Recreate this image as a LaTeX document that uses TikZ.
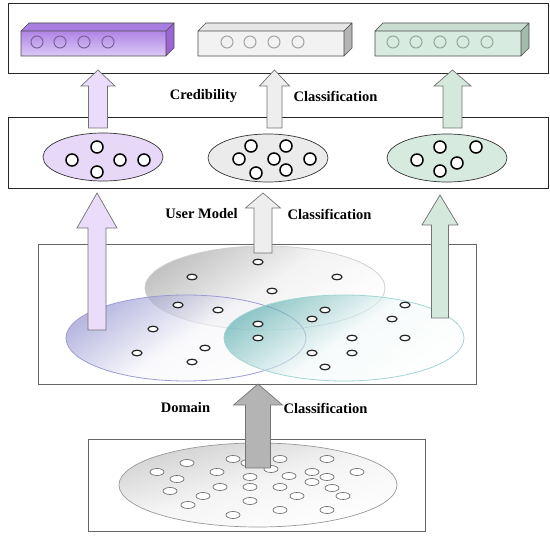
\documentclass[tikz,border=0pt]{standalone}
\usepackage{fontspec}
\setmainfont{Liberation Serif}
\definecolor{pFrontA}{HTML}{B085E6}
\definecolor{pFrontB}{HTML}{DCC8F6}
\definecolor{pTop}{HTML}{A87EE0}
\definecolor{pSide}{HTML}{9B65D6}
\definecolor{pRing}{HTML}{7E62A0}
\definecolor{gFront}{HTML}{F2F2F2}
\definecolor{gTop}{HTML}{E6E6E6}
\definecolor{gSide}{HTML}{B4B4B4}
\definecolor{gRing}{HTML}{A4A4A4}
\definecolor{tFront}{HTML}{D8EBE0}
\definecolor{tTop}{HTML}{C9DDD1}
\definecolor{tSide}{HTML}{A3BBAB}
\definecolor{tRing}{HTML}{93AA9B}
\definecolor{pArrow}{HTML}{EADCFA}
\definecolor{gArrow}{HTML}{EEEEEE}
\definecolor{tArrow}{HTML}{D4E8DB}
\definecolor{dArrow}{HTML}{B4B4B4}
\definecolor{pEll}{HTML}{E7D8F8}
\definecolor{gEll}{HTML}{EBEBEB}
\definecolor{tEll}{HTML}{D6EADF}
\definecolor{lowP}{HTML}{7E7EC8}
\definecolor{lowPline}{HTML}{9C9CD2}
\definecolor{lowG}{HTML}{B0B0B0}
\definecolor{lowGline}{HTML}{D0D0D0}
\definecolor{lowT}{HTML}{4EA8A8}
\definecolor{lowTline}{HTML}{A2D4D4}
\newcommand\tdbar[6]{%
  \shade[top color=#3,bottom color=#4] (#1,31) rectangle (#2,56);
  \fill[#5] (#1,31) -- ({#1+8},23) -- ({#2+8},23) -- (#2,31) -- cycle;
  \fill[#6] (#2,31) -- ({#2+8},23) -- ({#2+8},48) -- (#2,56) -- cycle;
  \draw[barline] (#1,31) rectangle (#2,56)
    (#1,31) -- ({#1+8},23) -- ({#2+8},23) -- ({#2+8},48) -- (#2,56)
    (#2,31) -- ({#2+8},23);
}
% cx, tip y, head base y, bottom y, head half width, shaft half width, fill
\newcommand\blockarrow[7]{%
  \draw[arrowbody, fill=#7] (#1,#2) -- ({#1+#5},#3) -- ({#1+#6},#3) -- ({#1+#6},#4)
    -- ({#1-#6},#4) -- ({#1-#6},#3) -- ({#1-#5},#3) -- cycle;
}
\begin{document}
\begin{tikzpicture}[x=1pt,y=-1pt,line join=miter,
  box/.style={draw=black!85, line width=0.8pt},
  lowbox/.style={draw=black!60, line width=1pt},
  barline/.style={draw=black!70, line width=0.7pt},
  lbl/.style={font=\fontsize{14.5}{16}\selectfont\bfseries, inner sep=0pt},
  arrowbody/.style={draw=black!55, line width=0.7pt},
  ring/.style={draw=black, line width=1.5pt, fill=white},
  smallring/.style={draw=black!85, line width=1.2pt, fill=white},
  bigring/.style={draw=black!55, line width=0.7pt, fill=white},
  midell/.style={draw=black!80, line width=0.7pt}]
\useasboundingbox (0,0) rectangle (550,540);
\fill[white] (0,0) rectangle (550,540);

% frames
\draw[box] (8,3) rectangle (548.5,73);
\draw[box] (8,117) rectangle (548.5,188);
\draw[lowbox] (38,244.5) rectangle (476,385);
\draw[lowbox] (88,440) rectangle (425,532);

% top bars
\tdbar{21}{166}{pFrontA}{pFrontB}{pTop}{pSide}
\tdbar{198}{344}{gFront}{gFront}{gTop}{gSide}
\tdbar{375}{521}{tFront}{tFront}{tTop}{tSide}
\foreach \x in {37,60,84,108} \draw[pRing, line width=1pt] (\x,42) circle (6);
\foreach \x in {227,250,274,298} \draw[gRing, line width=1pt] (\x,42) circle (6);
\foreach \x in {393,416,440,463,487} \draw[tRing, line width=1pt] (\x,42) circle (6);

% middle ellipses
\draw[midell, fill=pEll] (103,157) ellipse (60 and 24);
\draw[midell, fill=gEll] (268,158) ellipse (60 and 24);
\draw[midell, fill=tEll] (447,158) ellipse (60 and 24);
\foreach \p in {(72,160),(97,147),(97,172),(120,160),(144,160)} \draw[ring] \p circle (6);
\foreach \p in {(239,159),(251,146),(286,146),(274,159),(310,159),(256,173),(286,170)} \draw[ring] \p circle (6);
\foreach \p in {(417,160),(440,147),(476,147),(457,163),(440,171)} \draw[ring] \p circle (6);

% lower overlapping sets
\shade[fill opacity=0.75, top color=lowG, bottom color=white, middle color=lowG!20, shading angle=35] (265,288) ellipse (120 and 42);
\draw[lowGline, line width=0.8pt] (265,288) ellipse (120 and 42);
\shade[fill opacity=0.55, top color=lowP, bottom color=white, middle color=lowP!8, shading angle=35] (186,338) ellipse (120 and 43);
\draw[lowPline, line width=0.8pt] (186,338) ellipse (120 and 43);
\shade[fill opacity=0.6, top color=lowT, bottom color=white, middle color=lowT!8, shading angle=35] (344,338) ellipse (120 and 43);
\draw[lowTline, line width=0.8pt] (344,338) ellipse (120 and 43);
\foreach \p in {(258,262),(192,277),(337,277),(272,291),(178,305),(218,310),(325,310),(405,305),
  (312,319),(392,319),(258,324),(153,329),(258,338),(352,338),(405,338),(205,348),(137,353),
  (312,353),(352,353),(192,362),(325,367)} \draw[smallring] \p ellipse (5 and 2.8);

% bottom domain set
\shade[top color=black!18, bottom color=white, middle color=black!4, shading angle=15] (258,485) ellipse (139 and 42);
\draw[black!40, line width=0.7pt] (258,485) ellipse (139 and 42);
\foreach \p in {(187,463),(233,459),(280,459),(327,459),(157,472),(217,472),(248,463),(271,469),
  (312,472),(357,472),(177,479),(250,477),(289,476),(327,477),(312,482),(170,491),(220,487),
  (250,487),(280,487),(332,488),(203,496),(297,496),(343,496),(188,505),(250,501),(280,510),
  (327,510),(233,515)} \draw[bigring] \p ellipse (7 and 3.5);

% block arrows
\blockarrow{98}{70}{86}{128}{17}{9.5}{pArrow}
\blockarrow{274.5}{70}{86}{128}{15}{7.5}{gArrow}
\blockarrow{452.5}{70}{86}{128}{18.5}{9.5}{tArrow}
\blockarrow{97}{193}{228}{330}{20}{9}{pArrow}
\blockarrow{263}{193}{208}{253}{17.5}{9}{gArrow}
\blockarrow{440}{195}{225}{318}{18}{8.5}{tArrow}
\blockarrow{258}{384}{405}{468}{24.5}{12.5}{dArrow}

% labels
\node[lbl] (cred) at (203.5,96) {Credibility};
\node[lbl] (class1) at (335.5,96) {Classification};
\node[lbl] (user) at (201.5,214) {User Model};
\node[lbl] (class2) at (329.5,214) {Classification};
\node[lbl] (dom) at (185.5,408) {Domain};
\node[lbl] (class3) at (325.5,408) {Classification};
\end{tikzpicture}
\end{document}
